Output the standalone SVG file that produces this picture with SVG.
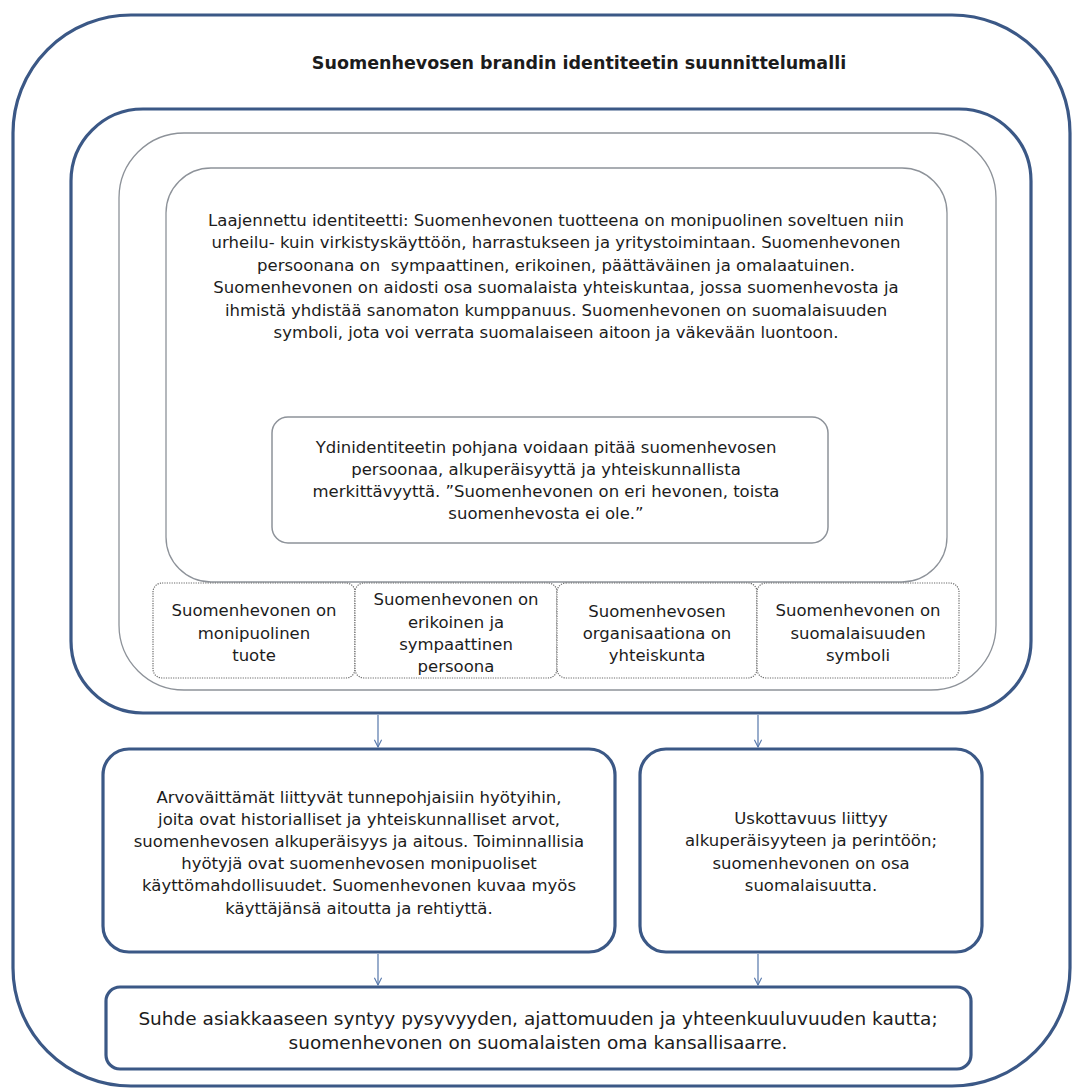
<svg xmlns="http://www.w3.org/2000/svg" width="1074" height="1089" viewBox="0 0 1074 1089">
<style>
.bg{fill:#ffffff}
.thick{fill:none;stroke:#3b5886;stroke-width:3.2}
.box{fill:#ffffff;stroke:#3b5886;stroke-width:3.2}
.thin{fill:none;stroke:#8d9299;stroke-width:1.3}
.core{fill:#ffffff;stroke:#8d9299;stroke-width:1.5}
.dot{fill:#ffffff;stroke:#6a6a6a;stroke-width:1.2;stroke-dasharray:1.2 1.2}
text{font-family:"DejaVu Sans","Verdana",sans-serif;fill:#1c1c1c;text-anchor:middle;dominant-baseline:central}
.t{font-size:16.5px}
.tb{font-size:18.5px}
.title{font-size:17.5px;font-weight:bold}
.conn{stroke:#5677ab;stroke-width:1.2;fill:none}
</style>
<defs>
<marker id="arr" viewBox="0 0 10 10" refX="9" refY="5" markerWidth="9" markerHeight="9" orient="auto" markerUnits="userSpaceOnUse">
<path d="M1,1 L9,5 L1,9" fill="none" stroke="#5677ab" stroke-width="1.2"/>
</marker>
</defs>
<rect class="bg" x="0" y="0" width="1074" height="1089"/>

<g id="outer-frame">
<rect class="thick" x="13" y="15" width="1057" height="1071" rx="118" ry="118"/>
<text class="title" x="579" y="63">Suomenhevosen brandin identiteetin suunnittelumalli</text>
</g>

<g id="identity-frame">
<rect class="thick" x="71" y="109" width="960" height="604" rx="72" ry="72"/>
</g>

<g id="frame-3">
<rect class="thin" x="119" y="133" width="877" height="557" rx="65" ry="65"/>
</g>

<g id="extended-identity">
<rect class="thin" x="166" y="168" width="781" height="414" rx="45" ry="45"/>
<text class="t" x="556" y="220">Laajennettu identiteetti: Suomenhevonen tuotteena on monipuolinen soveltuen niin</text>
<text class="t" x="556" y="242.5">urheilu- kuin virkistyskäyttöön, harrastukseen ja yritystoimintaan. Suomenhevonen</text>
<text class="t" x="556" y="265" xml:space="preserve">persoonana on  sympaattinen, erikoinen, päättäväinen ja omalaatuinen.</text>
<text class="t" x="556" y="287.5">Suomenhevonen on aidosti osa suomalaista yhteiskuntaa, jossa suomenhevosta ja</text>
<text class="t" x="556" y="310">ihmistä yhdistää sanomaton kumppanuus. Suomenhevonen on suomalaisuuden</text>
<text class="t" x="556" y="332.5">symboli, jota voi verrata suomalaiseen aitoon ja väkevään luontoon.</text>
</g>

<g id="core-identity">
<rect class="core" x="272" y="417" width="556" height="126" rx="16" ry="16"/>
<text class="t" x="546" y="447">Ydinidentiteetin pohjana voidaan pitää suomenhevosen</text>
<text class="t" x="546" y="469">persoonaa, alkuperäisyyttä ja yhteiskunnallista</text>
<text class="t" x="546" y="491">merkittävyyttä. ”Suomenhevonen on eri hevonen, toista</text>
<text class="t" x="546" y="513">suomenhevosta ei ole.”</text>
</g>

<g id="pillar-1">
<rect class="dot" x="153" y="583" width="202" height="95" rx="9" ry="9"/>
<text class="t" x="254" y="610">Suomenhevonen on</text>
<text class="t" x="254" y="633">monipuolinen</text>
<text class="t" x="254" y="655">tuote</text>
</g>
<g id="pillar-2">
<rect class="dot" x="355" y="583" width="202" height="95" rx="9" ry="9"/>
<text class="t" x="456" y="599">Suomenhevonen on</text>
<text class="t" x="456" y="622">erikoinen ja</text>
<text class="t" x="456" y="644">sympaattinen</text>
<text class="t" x="456" y="666">persoona</text>
</g>
<g id="pillar-3">
<rect class="dot" x="557" y="583" width="200" height="95" rx="9" ry="9"/>
<text class="t" x="657" y="611">Suomenhevosen</text>
<text class="t" x="657" y="633">organisaationa on</text>
<text class="t" x="657" y="655">yhteiskunta</text>
</g>
<g id="pillar-4">
<rect class="dot" x="757" y="583" width="202" height="95" rx="9" ry="9"/>
<text class="t" x="858" y="610">Suomenhevonen on</text>
<text class="t" x="858" y="633">suomalaisuuden</text>
<text class="t" x="858" y="655">symboli</text>
</g>

<g id="value-propositions">
<rect class="box" x="103" y="749" width="512" height="203" rx="26" ry="26"/>
<text class="t" x="359" y="797">Arvoväittämät liittyvät tunnepohjaisiin hyötyihin,</text>
<text class="t" x="359" y="819">joita ovat historialliset ja yhteiskunnalliset arvot,</text>
<text class="t" x="359" y="841">suomenhevosen alkuperäisyys ja aitous. Toiminnallisia</text>
<text class="t" x="359" y="863">hyötyjä ovat suomenhevosen monipuoliset</text>
<text class="t" x="359" y="885">käyttömahdollisuudet. Suomenhevonen kuvaa myös</text>
<text class="t" x="359" y="908">käyttäjänsä aitoutta ja rehtiyttä.</text>
</g>

<g id="credibility">
<rect class="box" x="640" y="749" width="342" height="203" rx="26" ry="26"/>
<text class="t" x="811" y="818">Uskottavuus liittyy</text>
<text class="t" x="811" y="840">alkuperäisyyteen ja perintöön;</text>
<text class="t" x="811" y="863">suomenhevonen on osa</text>
<text class="t" x="811" y="885">suomalaisuutta.</text>
</g>

<g id="customer-relationship">
<rect class="box" x="106" y="987" width="865" height="82" rx="14" ry="14"/>
<text class="tb" x="538" y="1018">Suhde asiakkaaseen syntyy pysyvyyden, ajattomuuden ja yhteenkuuluvuuden kautta;</text>
<text class="tb" x="538" y="1042">suomenhevonen on suomalaisten oma kansallisaarre.</text>
</g>

<g id="connectors">
<line class="conn" x1="378" y1="715" x2="378" y2="747" marker-end="url(#arr)"/>
<line class="conn" x1="758" y1="715" x2="758" y2="747" marker-end="url(#arr)"/>
<line class="conn" x1="378" y1="954" x2="378" y2="985" marker-end="url(#arr)"/>
<line class="conn" x1="758" y1="954" x2="758" y2="985" marker-end="url(#arr)"/>
</g>
</svg>
